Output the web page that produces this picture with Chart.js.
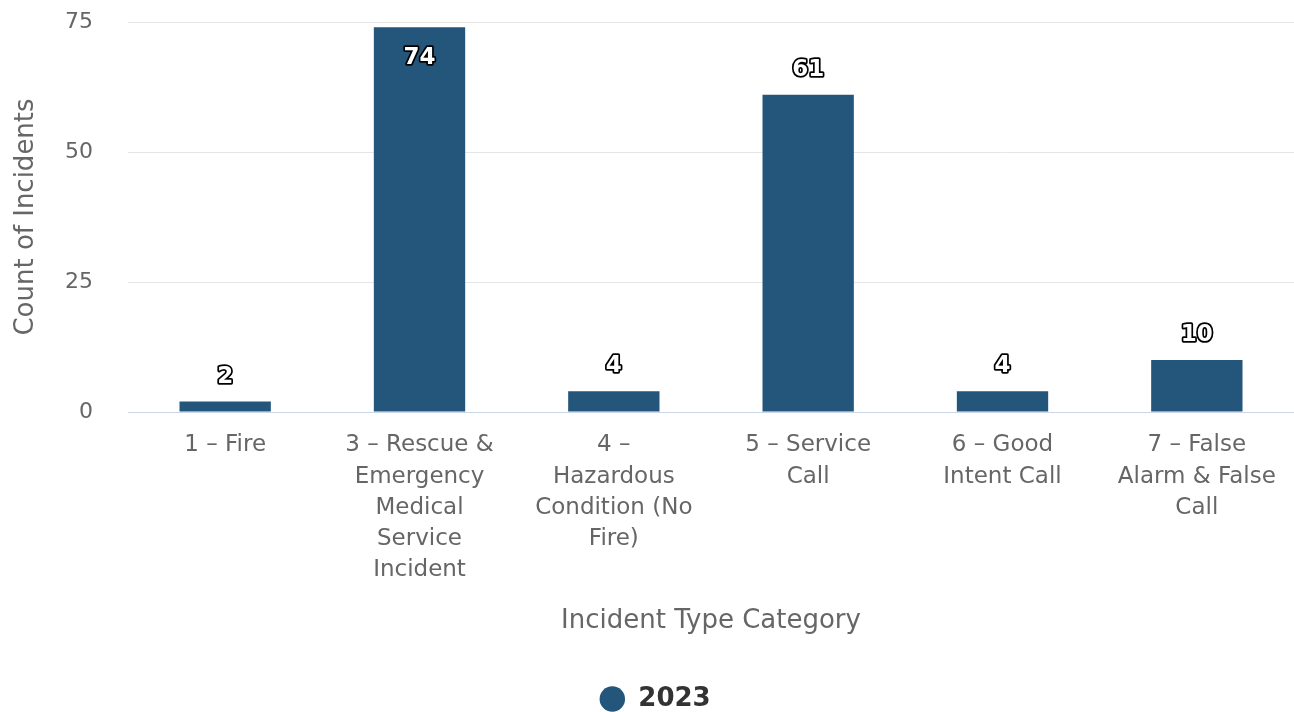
<!DOCTYPE html>
<html>
<head>
<meta charset="utf-8">
<script src="https://cdn.jsdelivr.net/npm/chart.js"></script>
<style>
  html, body { margin: 0; padding: 0; background: #fff; }
  #wrap { width: 1294px; height: 712px; position: relative; }
</style>
</head>
<body>
<div id="wrap"><canvas id="chart"></canvas></div>
<script>
// Chart data
const categories = [
    '1 – Fire',
    ['3 – Rescue &', 'Emergency', 'Medical', 'Service', 'Incident'],
    ['4 –', 'Hazardous', 'Condition (No', 'Fire)'],
    ['5 – Service', 'Call'],
    ['6 – Good', 'Intent Call'],
    ['7 – False', 'Alarm & False', 'Call']
];
const counts2023 = [2, 74, 4, 61, 4, 10];
const yTicks = [0, 25, 50, 75];
const seriesName = '2023';

const FONT = '"DejaVu Sans", Verdana, sans-serif';

// Highcharts-like data labels: white text with a dark outline
const barLabels = {
    id: 'barLabels',
    afterDatasetsDraw(chart) {
        const ctx = chart.ctx;
        const meta = chart.getDatasetMeta(0);
        ctx.save();
        ctx.font = 'bold 23px ' + FONT;
        ctx.textAlign = 'center';
        ctx.textBaseline = 'middle';
        ctx.lineJoin = 'round';
        meta.data.forEach((bar, i) => {
            const text = String(chart.data.datasets[0].data[i]);
            let y = bar.y - 25;
            // no room above the bar -> put it inside, near the top
            if (y - 12 < chart.chartArea.top) y = bar.y + 31;
            ctx.lineWidth = 3.5;
            ctx.strokeStyle = '#000';
            ctx.strokeText(text, bar.x, y);
            ctx.fillStyle = '#fff';
            ctx.fillText(text, bar.x, y);
        });
        ctx.restore();
    }
};

// nudge the legend a little to the right, like the original
const legendShift = {
    id: 'legendShift',
    afterLayout(chart) {
        chart.legend.left += 8;
        chart.legend.right += 8;
    }
};

document.addEventListener('DOMContentLoaded', function() {
    new Chart(document.getElementById('chart').getContext('2d'), {
        type: 'bar',
        data: {
            labels: categories,
            datasets: [{
                label: seriesName,
                data: counts2023,
                backgroundColor: '#24567b',
                categoryPercentage: 1,
                barPercentage: 0.47
            }]
        },
        options: {
            responsive: true,
            maintainAspectRatio: false,
            animation: false,
            layout: { padding: { top: 22, right: 0, bottom: -10, left: 0 } },
            plugins: {
                tooltip: { enabled: false },
                legend: {
                    position: 'bottom',
                    labels: {
                        usePointStyle: true,
                        pointStyle: 'circle',
                        boxWidth: 40,
                        boxHeight: 18,
                        padding: 1,
                        color: '#333',
                        font: { family: FONT, size: 26, weight: 'bold' }
                    }
                }
            },
            scales: {
                x: {
                    grid: { display: false, drawTicks: false },
                    border: { display: true, color: '#ccd6eb', width: 1 },
                    ticks: {
                        color: '#666',
                        padding: 18,
                        maxRotation: 0,
                        autoSkip: false,
                        font: { family: FONT, size: 23, lineHeight: 1.35 }
                    },
                    title: {
                        display: true,
                        text: 'Incident Type Category',
                        color: '#666',
                        font: { family: FONT, size: 26 },
                        padding: { top: 0, bottom: 48 }
                    },
                    afterFit(scale) { scale.height = 273; }
                },
                y: {
                    min: 0,
                    max: 75,
                    afterBuildTicks(scale) { scale.ticks = yTicks.map(v => ({ value: v })); },
                    grid: {
                        drawTicks: true,
                        tickLength: 33,
                        tickColor: 'rgba(0,0,0,0)',
                        color: ctx => ctx.tick && ctx.tick.value === 0 ? '#ccd6eb' : '#e6e6e6'
                    },
                    border: { display: false },
                    ticks: {
                        color: '#666',
                        padding: 2,
                        font: { family: FONT, size: 22 }
                    },
                    title: {
                        display: true,
                        text: 'Count of Incidents',
                        color: '#666',
                        font: { family: FONT, size: 26 },
                        padding: { top: 11, bottom: 0 }
                    },
                    afterFit(scale) { scale.width = 128; }
                }
            }
        },
        plugins: [barLabels, legendShift]
    });
});
</script>
</body>
</html>
